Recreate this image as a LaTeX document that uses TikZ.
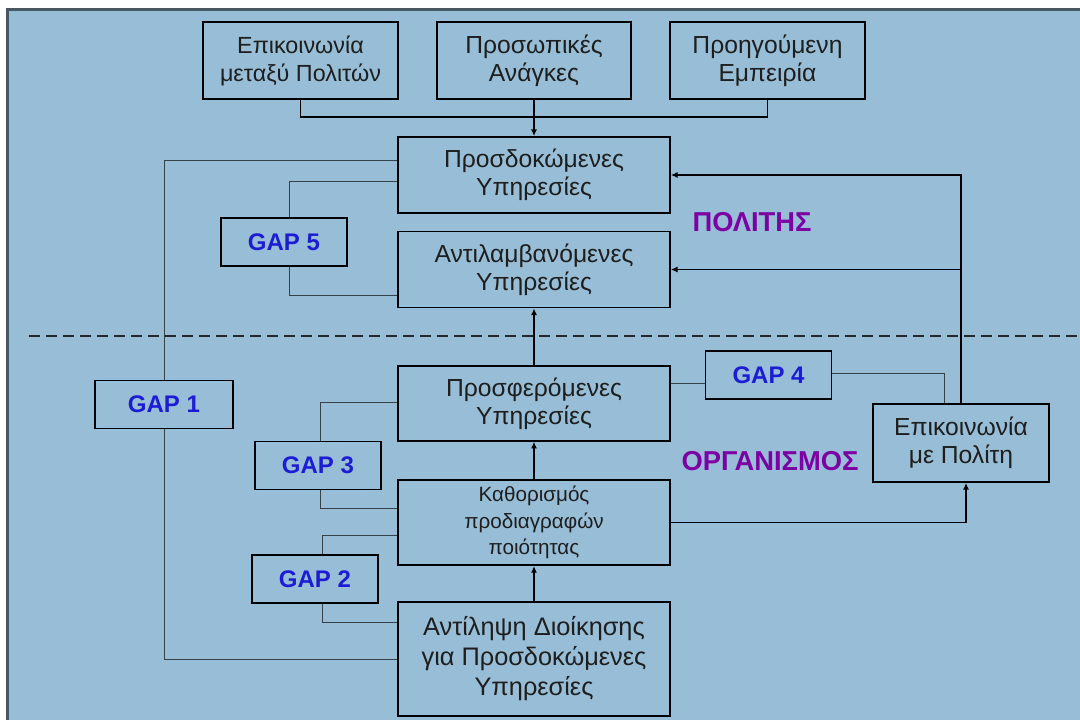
\documentclass[tikz,border=0pt]{standalone}
\usepackage{fontspec}
\setmainfont{Liberation Sans}
\usetikzlibrary{arrows.meta,calc}

\definecolor{bgblue}{RGB}{151,190,214}
\definecolor{framegray}{RGB}{72,88,98}
\definecolor{gapblue}{RGB}{28,28,215}
\definecolor{areapurple}{RGB}{125,0,165}
\definecolor{textgray}{RGB}{30,30,30}
\definecolor{linkgray}{RGB}{55,65,72}

\tikzset{
  box/.style={draw=black, line width=1.3pt, inner sep=0pt, align=center, text=textgray,
    font=\fontsize{18.5}{21}\selectfont, minimum width=204pt, minimum height=57pt},
  topbox/.style={box, minimum width=146pt, minimum height=58pt},
  gapbox/.style={draw=black, line width=1.3pt, inner sep=0pt, text=gapblue,
    font=\fontsize{18}{20}\bfseries\selectfont, minimum width=94.5pt, minimum height=36pt},
  area/.style={text=areapurple, font=\fontsize{20.5}{24}\bfseries\selectfont},
  flow/.style={line width=1.1pt, -{Latex[length=5pt,width=4.5pt]}},
  link/.style={draw=linkgray, line width=0.7pt},
}

\begin{document}
\begin{tikzpicture}[x=0.75pt,y=0.75pt,yscale=-1,xscale=1]
\useasboundingbox (0,0) rectangle (1080,720);

%Background and frame
\fill[bgblue] (6,8) rectangle (1080,720);
\draw[framegray, line width=2.2pt] (7.5,720) -- (7.5,9.5) -- (1080,9.5);
%Dashed separator
\draw[black!85, line width=2.2pt, dash pattern=on 8.25pt off 4.5pt] (29,336) -- (1080,336);

%Top row
\node[topbox, font=\fontsize{17.5}{21}\selectfont] (epik) at (300.5,60.5) {Επικοινωνία\\μεταξύ Πολιτών};
\node[topbox] (anag) at (534,60.5) {Προσωπικές\\Ανάγκες};
\node[topbox] (emp) at (767.5,60.5) {Προηγούμενη\\Εμπειρία};

%Middle column
\node[box] (prosd) at (534,175) {Προσδοκώμενες\\Υπηρεσίες};
\node[box] (antil) at (534,269.5) {Αντιλαμβανόμενες\\Υπηρεσίες};
\node[box, minimum height=56pt] (prosf) at (534,403.5) {Προσφερόμενες\\Υπηρεσίες};
\node[box, minimum height=64pt, font=\fontsize{15.5}{20}\selectfont] (kath) at (534,522.5) {Καθορισμός\\προδιαγραφών\\ποιότητας};
\node[box, minimum height=85.5pt, font=\fontsize{19}{22.5}\selectfont] (dioik) at (534,659) {Αντίληψη Διοίκησης\\για Προσδοκώμενες\\Υπηρεσίες};
\node[box, minimum width=132pt, minimum height=58.5pt] (epol) at (961,443) {Επικοινωνία\\με Πολίτη};

%Gaps
\node[gapbox] (gap5) at (284,242) {GAP 5};
\node[gapbox, minimum width=103.5pt] (gap1) at (164,404.5) {GAP 1};
\node[gapbox] (gap3) at (318,465.5) {GAP 3};
\node[gapbox] (gap2) at (315,579) {GAP 2};
\node[gapbox] (gap4) at (768.5,375) {GAP 4};

% Text Node
\node[area] (polit) at (752,222) {ΠΟΛΙΤΗΣ};
% Text Node
\node[area] (organ) at (770,461) {ΟΡΓΑΝΙΣΜΟΣ};

%Flows
\coordinate (bus) at (534,117);
\draw[line width=1.1pt] (epik.south) |- (bus) -| (emp.south);
\draw[flow] (anag.south) -- (prosd.north);
\draw[flow] (prosf.north) -- (antil.south);
\draw[flow] (kath.north) -- (prosf.south);
\draw[flow] (dioik.north) -- (kath.south);
\draw[flow] (epol.north) |- (prosd.east);
\draw[flow] (epol.north |- antil.east) -- (antil.east);
\draw[flow] (kath.east) -| ($(epol.south)+(5,0)$);

%Gap links
\draw[link] ($(prosd.west)+(0,-15)$) -| (gap1.north);
\draw[link] (gap1.south) |- (dioik.west);
\draw[link] ($(prosd.west)+(0,6)$) -| ($(gap5.north)+(5,0)$);
\draw[link] ($(gap5.south)+(5,0)$) |- ($(antil.west)+(0,25.5)$);
\draw[link] ($(prosf.west)+(0,-1.5)$) -| ($(gap3.north)+(2,0)$);
\draw[link] ($(gap3.south)+(2,0)$) |- ($(kath.west)+(0,-14.5)$);
\draw[link] ($(kath.west)+(0,12.5)$) -| ($(gap2.north)+(7,0)$);
\draw[link] ($(gap2.south)+(7,0)$) |- ($(dioik.west)+(0,-37)$);
\draw[link] ($(prosf.east)+(0,-20.5)$) -- ($(gap4.west)+(0,8)$);
\draw[link] ($(gap4.east)+(0,-2)$) -| ($(epol.north)+(-17,0)$);

\end{tikzpicture}
\end{document}
